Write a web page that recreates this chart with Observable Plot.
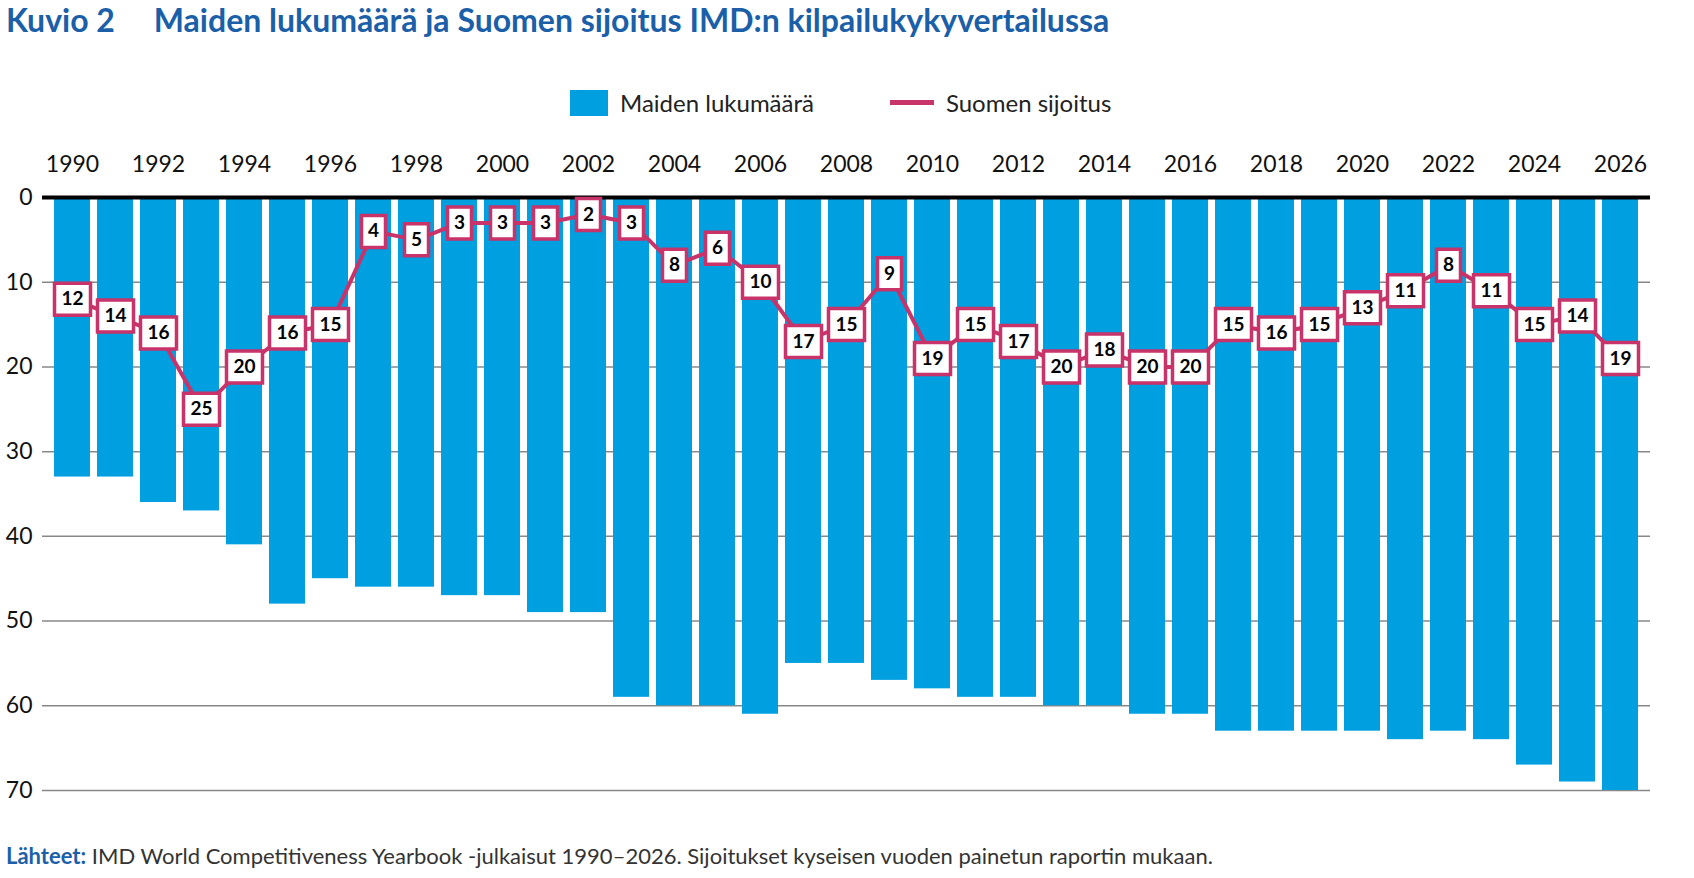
<!DOCTYPE html>
<html><head><meta charset="utf-8">
<script src="https://cdn.jsdelivr.net/npm/d3@7"></script>
<script src="https://cdn.jsdelivr.net/npm/@observablehq/plot@0.6"></script>
<style>
body{margin:0;background:#fff;font-family:Lato,"Open Sans",sans-serif;width:1694px;height:878px;position:relative;overflow:hidden}
#title{position:absolute;left:6px;top:0px;font-size:32px;font-weight:bold;color:#1b5fa9;white-space:pre}
#legend{position:absolute;top:88px;left:570px;font-size:24px;color:#222;display:flex;align-items:center}
#chart{position:absolute;left:0;top:130px}
#foot{position:absolute;left:6px;top:842px;font-size:22px;color:#333}
#foot b{color:#1b5fa9}
</style></head><body>
<div id="title">Kuvio 2     Maiden lukumäärä ja Suomen sijoitus IMD:n kilpailukykyvertailussa</div>
<div id="legend"><span style="display:inline-block;width:38px;height:26px;background:#009fe0;margin-right:12px"></span>Maiden lukumäärä<span style="display:inline-block;width:44px;height:5px;background:#c8336a;margin:0 12px 0 76px"></span>Suomen sijoitus</div>
<div id="chart"></div>
<div id="foot"><b>Lähteet:</b> IMD World Competitiveness Yearbook -julkaisut 1990–2026. Sijoitukset kyseisen vuoden painetun raportin mukaan.</div>
<script>
const years = d3.range(1990, 2027);
const countries = [33,33,36,37,41,48,45,46,46,47,47,49,49,59,60,60,61,55,55,57,58,59,59,60,60,61,61,63,63,63,63,64,63,64,67,69,70];
const ranks = [12,14,16,25,20,16,15,4,5,3,3,3,2,3,8,6,10,17,15,9,19,15,17,20,18,20,20,15,16,15,13,11,8,11,15,14,19];
const yTicks = [0,10,20,30,40,50,60,70];
const data = years.map((y,i)=>({year:y, n:countries[i], rank:ranks[i]}));
const crimson = "#c8336a";
const box = (w,h)=>({draw(ctx){ctx.rect(-w/2,-h/2,w,h);}});
const plot = Plot.plot({
  width:1694, height:690,
  marginLeft:42, marginRight:44, marginTop:67, marginBottom:30,
  style:{fontFamily:"Lato, 'Open Sans', sans-serif", fontSize:"23px", color:"#111"},
  x:{type:"band", domain:years, padding:0.16, axis:"top", tickSize:0, tickPadding:26,
     tickFormat:d=> d%2===0 ? String(d) : "", label:null},
  y:{domain:[0,70], reverse:true, ticks:yTicks, tickSize:0, tickPadding:10, label:null},
  marks:[
    Plot.ruleY(yTicks.slice(1), {stroke:"#888", strokeWidth:1.5}),
    Plot.barY(data, {x:"year", y:"n", fill:"#009fe0"}),
    Plot.ruleY([0], {stroke:"#000", strokeWidth:4}),
    Plot.line(data, {x:"year", y:"rank", stroke:crimson, strokeWidth:4}),
    Plot.dot(data.filter(d=>d.rank<10), {x:"year", y:"rank", symbol:box(24,32), fill:"white", stroke:crimson, strokeWidth:3.5}),
    Plot.dot(data.filter(d=>d.rank>=10), {x:"year", y:"rank", symbol:box(36,32), fill:"white", stroke:crimson, strokeWidth:3.5}),
    Plot.text(data, {x:"year", y:"rank", text:d=>String(d.rank), fontWeight:"bold", fontSize:19, fill:"#000"})
  ]
});
document.getElementById("chart").append(plot);
</script>
</body></html>
